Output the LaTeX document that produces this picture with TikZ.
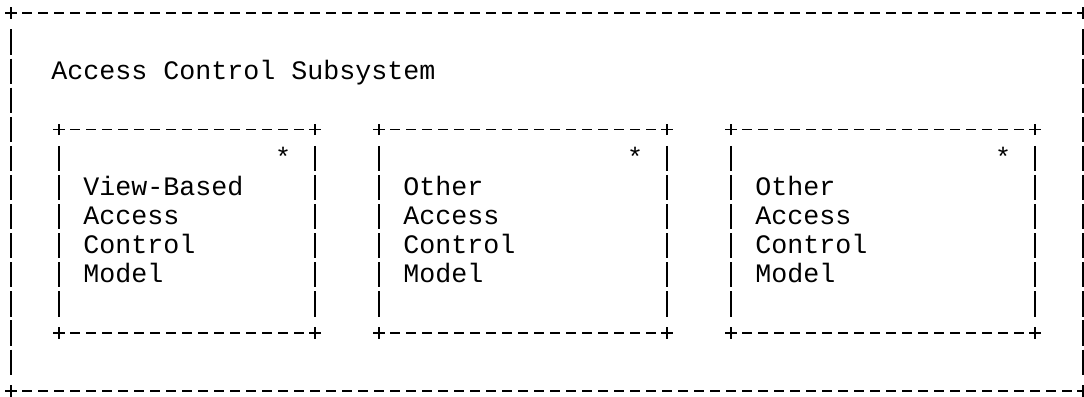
\documentclass[tikz,border=0pt]{standalone}
\usepackage{fontspec}
\setmonofont{Liberation Mono}
\usepackage{tikz}
\usetikzlibrary{calc}
\usetikzlibrary{positioning}

\newcommand{\asciibox}[3]{%
  \coordinate (#1-nw) at #2;
  \coordinate (#1-se) at #3;
  \coordinate (#1-ne) at (#1-se |- #1-nw);
  \coordinate (#1-sw) at (#1-nw |- #1-se);
  \draw[hline] ([xshift=4pt]#1-nw) -- ([xshift=-4pt]#1-ne);
  \draw[hline] ([xshift=4pt]#1-sw) -- ([xshift=-4pt]#1-se);
  \draw[vline] ([yshift=-7.275pt]#1-nw) -- ([yshift=7.275pt]#1-sw);
  \draw[vline] ([yshift=-7.275pt]#1-ne) -- ([yshift=7.275pt]#1-se);
  \foreach \cn in {nw,ne,sw,se}
    \draw[cross] (#1-\cn) +(-2.9pt,0) -- +(2.9pt,0) +(0,-2.9pt) -- +(0,2.9pt);
}

\begin{document}
\begin{tikzpicture}[x=8pt,y=-14.55pt,
hline/.style={line width=0.8pt,dash pattern=on 4.6pt off 3.4pt,dash phase=6.3pt},
vline/.style={line width=0.8pt,dash pattern=on 12.6pt off 1.95pt,dash phase=13.575pt},
cross/.style={line width=0.8pt},
every node/.style={inner sep=0pt,font=\ttfamily\fontsize{13.33}{14.55}\selectfont},
txt/.style={anchor=base west,align=left,yshift=-4pt},
star/.style={anchor=base,yshift=-4pt}]
\useasboundingbox (-0.6875,-0.4467) rectangle (67.0625,13.196);
\asciibox{acs}{(0,0)}{(67,13)}
\asciibox{m1}{(3,4)}{(19,11)}
\asciibox{m2}{(23,4)}{(41,11)}
\asciibox{m3}{(45,4)}{(64,11)}
\node[txt] (title) at (2.5,2) {Access Control Subsystem};
\node[star] (s1) at (17,5) {*};
\node[star] (s2) at (39,5) {*};
\node[star] (s3) at (62,5) {*};
\node[txt] (t1) at (4.5,9) {View-Based\\Access\\Control\\Model};
\node[txt] (t2) at (24.5,9) {Other\\Access\\Control\\Model};
\node[txt] (t3) at (46.5,9) {Other\\Access\\Control\\Model};
\end{tikzpicture}
\end{document}
